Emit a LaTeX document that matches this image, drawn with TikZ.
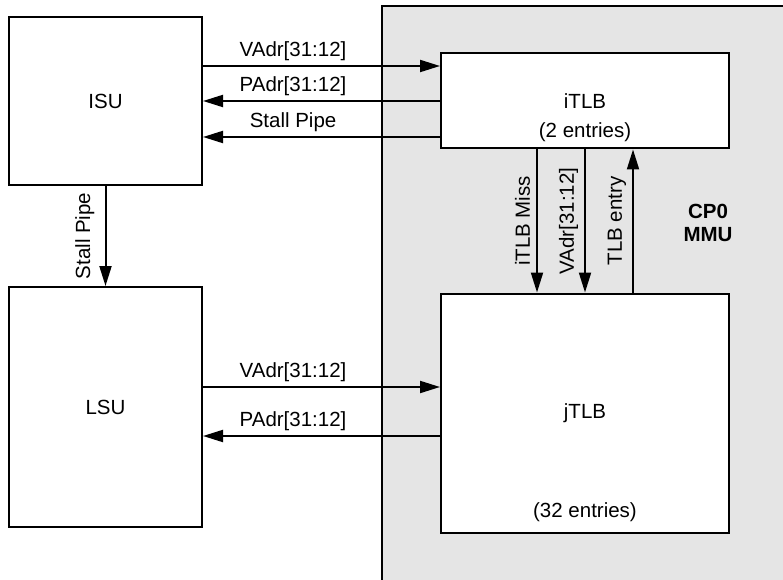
\documentclass[tikz,border=0pt]{standalone}
\usepackage{fontspec}
\setmainfont{Liberation Sans}
\usetikzlibrary{arrows.meta,positioning}
\definecolor{mmuGray}{HTML}{E5E5E5}

\begin{document}
\begin{tikzpicture}[x=1pt,y=1pt,
  font=\fontsize{20.5}{23}\selectfont,
  unitbox/.style={draw,line width=2pt,fill=white,inner sep=0pt},
  flow/.style={-{Triangle[length=20pt,width=12pt]},line width=2pt},
  sig/.style={above=2.5pt,inner sep=2pt},
  vsig/.style={midway,rotate=90,anchor=south,inner sep=6pt}]
  \useasboundingbox (0,0) rectangle (783,579);
  \clip (0,0) rectangle (783,579);
  % CP0 / MMU area
  \fill[mmuGray] (381.5,-10) rectangle (800,573);
  \draw[line width=2pt] (381.5,-10) |- (800,573);
  \node[font=\fontsize{20.5}{23}\selectfont\bfseries,align=center] (mmu) at (708,356) {CP0\\MMU};
  % units
  \node[unitbox,minimum width=193pt,minimum height=168pt] (isu) at (105.5,478) {ISU};
  \node[unitbox,minimum width=193pt,minimum height=240pt,below=100pt of isu] (lsu) {LSU};
  \node[unitbox,minimum width=288pt,minimum height=95pt,right=237pt of isu] (itlb) {iTLB};
  \node[unitbox,minimum width=288pt,minimum height=239pt,below=143pt of itlb] (jtlb) {jTLB};
  \node (itlbsize) at ([yshift=-31pt]itlb.center) {(2 entries)};
  \node (jtlbsize) at ([yshift=21pt]jtlb.south) {(32 entries)};
  % ISU <-> iTLB
  \draw[flow] ([yshift=35pt]isu.east) -- node[sig,pos=.38]{VAdr[31:12]} ([yshift=35pt]itlb.west);
  \draw[flow] (itlb.west) -- node[sig,pos=.62]{PAdr[31:12]} (isu.east);
  \draw[flow] ([yshift=-36pt]itlb.west) -- node[sig,pos=.62]{Stall Pipe} ([yshift=-36pt]isu.east);
  \draw[flow] (isu.south) -- node[vsig,inner sep=10pt]{Stall Pipe} (lsu.north);
  % iTLB <-> jTLB
  \draw[flow] ([xshift=-48pt]itlb.south) -- node[vsig]{iTLB Miss} ([xshift=-48pt]jtlb.north);
  \draw[flow] (itlb.south) -- node[vsig]{VAdr[31:12]} (jtlb.north);
  \draw[flow] ([xshift=48pt]jtlb.north) -- node[vsig]{TLB entry} ([xshift=48pt]itlb.south);
  % LSU <-> jTLB
  \draw[flow] ([yshift=20pt]lsu.east) -- node[sig,pos=.38]{VAdr[31:12]} ([yshift=26pt]jtlb.west);
  \draw[flow] ([yshift=-23pt]jtlb.west) -- node[sig,pos=.62]{PAdr[31:12]} ([yshift=-29pt]lsu.east);
\end{tikzpicture}
\end{document}
